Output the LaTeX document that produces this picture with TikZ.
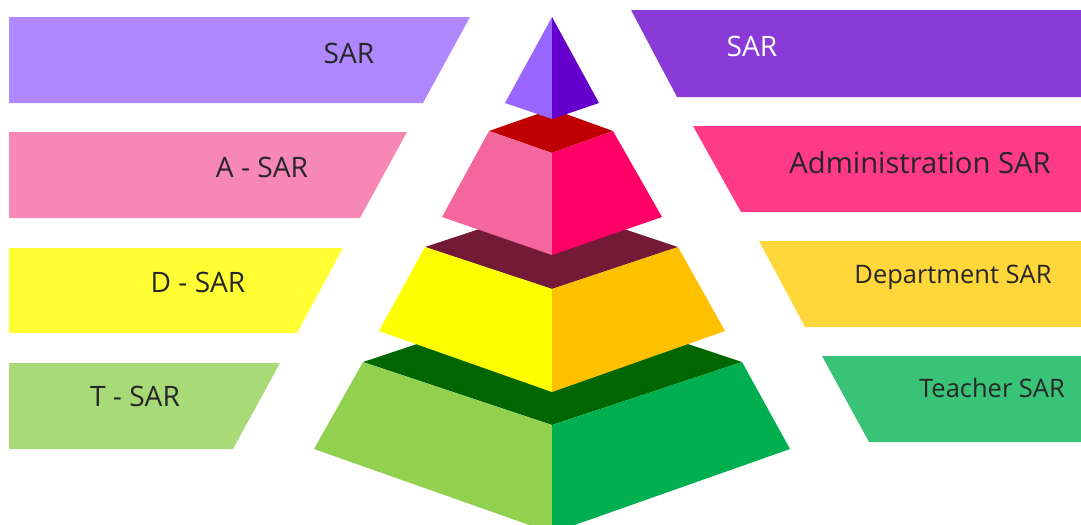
\documentclass[tikz,border=0pt]{standalone}
\usepackage{fontspec}
\setmainfont{Open Sans}
\usepackage{tikz}
\usetikzlibrary{positioning}
\definecolor{banviolet}{HTML}{AF88FF}
\definecolor{banrose}{HTML}{F787B5}
\definecolor{banlemon}{HTML}{FFFF33}
\definecolor{banlime}{HTML}{A9DA78}
\definecolor{tagviolet}{HTML}{8A3AD6}
\definecolor{tagrose}{HTML}{FF3A88}
\definecolor{tagamber}{HTML}{FFD73A}
\definecolor{tagjade}{HTML}{39C378}
\definecolor{inkgrey}{HTML}{262626}
\definecolor{tipleft}{HTML}{9966FF}
\definecolor{tipright}{HTML}{6600CC}
\definecolor{roselid}{HTML}{C00000}
\definecolor{roseleft}{HTML}{F4679D}
\definecolor{roseright}{HTML}{FF0066}
\definecolor{goldlid}{HTML}{721A36}
\definecolor{goldleft}{HTML}{FFFF00}
\definecolor{goldright}{HTML}{FFC000}
\definecolor{greenlid}{HTML}{006600}
\definecolor{greenleft}{HTML}{92D050}
\definecolor{greenright}{HTML}{00B050}

\begin{document}
\begin{tikzpicture}[x=0.02cm,y=-0.02cm,
    lbl/.style={anchor=base,inner sep=0pt,text=inkgrey,font=\fontsize{16}{19}\selectfont},
    face/.style={draw=none}]
  \path[use as bounding box] (0,0) rectangle (1081,524);
  \clip (0,0) rectangle (1081,524);

  % banners, left side
  \fill[banviolet] (9,17) -- (470,17) -- (423,103) -- (9,103) -- cycle;
  \fill[banrose]   (9,132) -- (407,132) -- (360,218) -- (9,218) -- cycle;
  \fill[banlemon]  (9,248) -- (343,248) -- (297,333) -- (9,333) -- cycle;
  \fill[banlime]   (9,363) -- (280,363) -- (233,449) -- (9,449) -- cycle;
  \node[lbl] (sarL)  at (349,63)  {SAR};
  \node[lbl] (asarL) at (262,177) {A - SAR};
  \node[lbl] (dsarL) at (198,292) {D - SAR};
  \node[lbl] (tsarL) at (135,406) {T - SAR};

  % banners, right side
  \fill[tagviolet] (631,10)  -- (1081,10)  -- (1081,97)  -- (677,97)  -- cycle;
  \fill[tagrose]   (693,126) -- (1081,126) -- (1081,212) -- (741,212) -- cycle;
  \fill[tagamber]  (759,241) -- (1081,241) -- (1081,327) -- (805,327) -- cycle;
  \fill[tagjade]   (822,356) -- (1081,356) -- (1081,442) -- (869,442) -- cycle;
  \node[lbl,text=white] (sarR) at (752,56) {SAR};
  \node[lbl,font=\fontsize{16.6}{19}\selectfont] (adminR) at (920,173) {Administration SAR};
  \node[lbl,font=\fontsize{14.5}{17}\selectfont] (deptR) at (953,283) {Department SAR};
  \node[lbl,font=\fontsize{14.5}{17}\selectfont] (teachR) at (992,397) {Teacher SAR};

  % pyramid, bottom tier up
  \fill[greenlid]   (363,362) -- (552,299) -- (742,362) -- (552,425) -- cycle;
  \fill[greenleft]  (363,362) -- (552,425) -- (552,533) -- (314,449) -- cycle;
  \fill[greenright] (552,425) -- (742,362) -- (790,449) -- (552,533) -- cycle;

  \fill[goldlid]   (425,247) -- (552,205) -- (678,247) -- (552,289) -- cycle;
  \fill[goldleft]  (425,247) -- (552,289) -- (552,392) -- (379,331) -- cycle;
  \fill[goldright] (552,289) -- (678,247) -- (725,331) -- (552,392) -- cycle;

  \fill[roselid]   (489,131) -- (552,109) -- (613,131) -- (552,153) -- cycle;
  \fill[roseleft]  (489,131) -- (552,153) -- (552,255) -- (442,217) -- cycle;
  \fill[roseright] (552,153) -- (613,131) -- (662,217) -- (552,255) -- cycle;

  \fill[tipleft]  (552,17) -- (505,103) -- (552,119) -- cycle;
  \fill[tipright] (552,17) -- (599,103) -- (552,119) -- cycle;
\end{tikzpicture}
\end{document}
